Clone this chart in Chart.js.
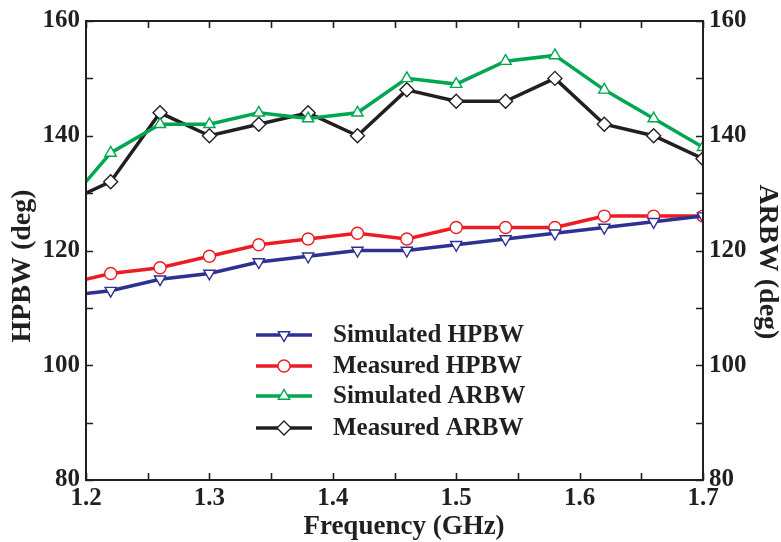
<!DOCTYPE html>
<html>
<head>
<meta charset="utf-8">
<title>HPBW / ARBW</title>
<script src="https://cdn.jsdelivr.net/npm/chart.js@4/dist/chart.umd.min.js"></script>
<style>
    html, body { margin: 0; padding: 0; background: #fff; }
    #chartBox { width: 781px; height: 542px; }
</style>
</head>
<body>
<div id="chartBox"><canvas id="chartBeam" width="781" height="542"></canvas></div>
<script>
// ==================== DATA ====================
const frequency = [1.18, 1.22, 1.26, 1.30, 1.34, 1.38, 1.42, 1.46, 1.50, 1.54, 1.58, 1.62, 1.66, 1.70];
const simHPBW   = [112, 113, 115, 116, 118, 119, 120, 120, 121, 122, 123, 124, 125, 126];
const measHPBW  = [114, 116, 117, 119, 121, 122, 123, 122, 124, 124, 124, 126, 126, 126];
const simARBW   = [127, 137, 142, 142, 144, 143, 144, 150, 149, 153, 154, 148, 143, 138];
const measARBW  = [128, 132, 144, 140, 142, 144, 140, 148, 146, 146, 150, 142, 140, 136];

const xTicks = [1.2, 1.3, 1.4, 1.5, 1.6, 1.7];
const yTicks = [80, 100, 120, 140, 160];

const FONT = '"Liberation Serif", "Times New Roman", serif';
const INK = '#231f20';

function toPoints(values) {
    return frequency.map((f, i) => ({ x: f, y: values[i] }));
}

function makeSeries(label, values, color, style, rotation, radius) {
    return {
        label: label,
        data: toPoints(values),
        borderColor: color,
        backgroundColor: '#ffffff',
        borderWidth: 3.5,
        pointStyle: style,
        rotation: rotation,
        pointRadius: radius,
        pointBorderColor: color,
        pointBackgroundColor: '#ffffff',
        pointBorderWidth: 1.4,
        tension: 0,
        clip: 0
    };
}

// frame + inward ticks (all four sides)
const frameTicks = {
    id: 'frameTicks',
    afterDraw(chart) {
        const { ctx, chartArea: a, scales } = chart;
        ctx.save();
        ctx.strokeStyle = INK;
        ctx.lineWidth = 2;
        ctx.strokeRect(a.left, a.top, a.right - a.left, a.bottom - a.top);
        ctx.lineWidth = 1.6;
        ctx.beginPath();
        for (let v = 1.2; v <= 1.7001; v += 0.05) {
            const px = Math.round(scales.x.getPixelForValue(v)) + 0.5;
            ctx.moveTo(px, a.bottom); ctx.lineTo(px, a.bottom - 7);
            ctx.moveTo(px, a.top); ctx.lineTo(px, a.top + 7);
        }
        for (let v = 80; v <= 160; v += 10) {
            const py = Math.round(scales.y.getPixelForValue(v)) + 0.5;
            ctx.moveTo(a.left, py); ctx.lineTo(a.left + 7, py);
            ctx.moveTo(a.right, py); ctx.lineTo(a.right - 7, py);
        }
        ctx.stroke();
        ctx.restore();
    }
};

// axis titles (placed like the original figure, slightly off-centre)
const axisTitles = {
    id: 'axisTitles',
    afterDraw(chart) {
        const { ctx } = chart;
        ctx.save();
        ctx.fillStyle = INK;
        ctx.textAlign = 'center';
        ctx.textBaseline = 'middle';

        ctx.font = 'bold 27px ' + FONT;
        ctx.fillText('Frequency (GHz)', 404, 527);

        ctx.font = 'bold 28px ' + FONT;
        ctx.save();
        ctx.translate(23, 266);
        ctx.rotate(-Math.PI / 2);
        ctx.fillText('HPBW (deg)', 0, 0);
        ctx.restore();

        ctx.save();
        ctx.translate(767, 262);
        ctx.rotate(Math.PI / 2);
        ctx.fillText('ARBW (deg)', 0, 0);
        ctx.restore();

        ctx.restore();
    }
};

// legend drawn inside the plot: line + marker + label
const lineLegend = {
    id: 'lineLegend',
    afterDraw(chart) {
        const { ctx } = chart;
        const rows = [335, 366, 396, 428];
        ctx.save();
        chart.data.datasets.forEach((ds, i) => {
            const y = rows[i];
            ctx.strokeStyle = ds.borderColor;
            ctx.lineWidth = 3.5;
            ctx.beginPath();
            ctx.moveTo(256, y);
            ctx.lineTo(312, y);
            ctx.stroke();
            ctx.strokeStyle = ds.pointBorderColor;
            ctx.fillStyle = '#ffffff';
            ctx.lineWidth = ds.pointBorderWidth;
            Chart.helpers.drawPoint(ctx, {
                pointStyle: ds.pointStyle,
                rotation: ds.rotation,
                radius: ds.pointRadius,
                borderWidth: ds.pointBorderWidth
            }, 284, y);
            ctx.fillStyle = INK;
            ctx.font = 'bold 25px ' + FONT;
            ctx.textBaseline = 'middle';
            ctx.textAlign = 'left';
            ctx.fillText(ds.label, 333, y + 1);
        });
        ctx.restore();
    }
};

document.addEventListener('DOMContentLoaded', function () {
    const ctx = document.getElementById('chartBeam');

    const tickFont = { family: FONT, size: 25, weight: 'bold' };

    new Chart(ctx, {
        type: 'line',
        data: {
            datasets: [
                makeSeries('Simulated HPBW', simHPBW, '#2e3192', 'triangle', 180, 6.5),
                makeSeries('Measured HPBW', measHPBW, '#ed1c24', 'circle', 0, 6),
                makeSeries('Simulated ARBW', simARBW, '#00a651', 'triangle', 0, 6.5),
                makeSeries('Measured ARBW', measARBW, '#231f20', 'rectRot', 0, 7)
            ]
        },
        options: {
            responsive: false,
            animation: false,
            layout: { padding: { top: 20, left: 0, right: 0, bottom: 0 } },
            plugins: {
                legend: { display: false },
                tooltip: { enabled: false }
            },
            scales: {
                x: {
                    type: 'linear',
                    min: 1.2,
                    max: 1.7,
                    afterFit: s => { s.height = 62; },
                    afterBuildTicks: s => { s.ticks = xTicks.map(v => ({ value: v })); },
                    grid: { display: false, drawTicks: false },
                    border: { display: false },
                    ticks: {
                        padding: 4,
                        color: INK,
                        font: tickFont,
                        callback: v => v.toFixed(1)
                    }
                },
                y: {
                    position: 'left',
                    min: 80,
                    max: 160,
                    afterFit: s => { s.width = 86; },
                    afterBuildTicks: s => { s.ticks = yTicks.map(v => ({ value: v })); },
                    grid: { display: false, drawTicks: false },
                    border: { display: false },
                    ticks: { padding: 6, color: INK, font: tickFont }
                },
                y2: {
                    position: 'right',
                    min: 80,
                    max: 160,
                    afterFit: s => { s.width = 78; },
                    afterBuildTicks: s => { s.ticks = yTicks.map(v => ({ value: v })); },
                    grid: { display: false, drawTicks: false },
                    border: { display: false },
                    ticks: { padding: 6, color: INK, font: tickFont }
                }
            }
        },
        plugins: [frameTicks, axisTitles, lineLegend]
    });
});
</script>
</body>
</html>
